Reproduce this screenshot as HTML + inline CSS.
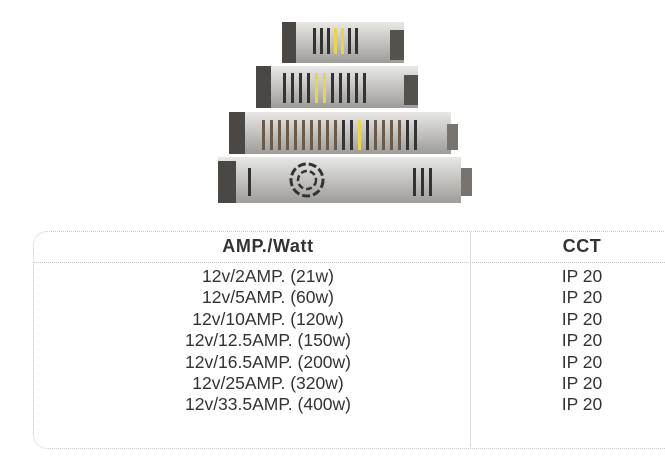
<!DOCTYPE html>
<html><head><style>
body{margin:0;width:665px;height:458px;background:#fff;overflow:hidden;position:relative;font-family:"Liberation Sans",sans-serif;color:#222}
.box{position:absolute;left:33px;top:231px;width:660px;height:216px;border:1px dotted #c8c8c8;border-radius:14px}
.hl{position:absolute;left:33px;top:262px;width:640px;border-top:1px dotted #c8c8c8}
.vl{position:absolute;left:470px;top:232px;height:215px;border-left:1px solid #ddd}
.h{position:absolute;top:236px;font-weight:bold;font-size:18px;letter-spacing:.6px;transform:translateX(-50%);color:#333}
.col{position:absolute;top:266px;font-size:17.5px;line-height:21.4px;text-align:center;transform:translateX(-50%);white-space:nowrap;color:#333}
</style></head><body>
<svg width="665" height="220" style="position:absolute;left:0;top:0">
<defs><linearGradient id="g" x1="0" y1="0" x2="0" y2="1"><stop offset="0" stop-color="#e8e8e6"/><stop offset=".5" stop-color="#c4c2be"/><stop offset="1" stop-color="#9e9c98"/></linearGradient></defs>
<g>
<rect x="282" y="22" width="122" height="41" fill="url(#g)"/><rect x="282" y="22" width="14" height="41" fill="#4a4744"/><rect x="390" y="30" width="14" height="30" fill="#55514c"/>
<g fill="#333"><rect x="313" y="28" width="3" height="26"/><rect x="320" y="28" width="3" height="26"/><rect x="327" y="28" width="3" height="26"/><rect x="334" y="28" width="3" height="26" fill="#e8d450"/><rect x="341" y="28" width="3" height="26" fill="#e8d450"/><rect x="348" y="28" width="3" height="26"/><rect x="355" y="28" width="3" height="26"/></g>
<rect x="256" y="66" width="162" height="42" fill="url(#g)"/><rect x="256" y="66" width="15" height="42" fill="#4a4744"/><rect x="404" y="75" width="14" height="30" fill="#55514c"/>
<g fill="#333"><rect x="283" y="73" width="3" height="30"/><rect x="291" y="73" width="3" height="30"/><rect x="299" y="73" width="3" height="30"/><rect x="307" y="73" width="3" height="30"/><rect x="315" y="73" width="3" height="30" fill="#e8d450"/><rect x="323" y="73" width="3" height="30" fill="#e8d450"/><rect x="331" y="73" width="3" height="30"/><rect x="339" y="73" width="3" height="30"/><rect x="347" y="73" width="3" height="30"/><rect x="355" y="73" width="3" height="30"/><rect x="363" y="73" width="3" height="30"/></g>
<rect x="229" y="112" width="222" height="42" fill="url(#g)"/><rect x="229" y="112" width="16" height="42" fill="#4a4744"/><rect x="447" y="124" width="11" height="26" fill="#77736e"/>
<g fill="#6a5a4a"><rect x="262" y="120" width="3" height="30"/><rect x="270" y="120" width="3" height="30"/><rect x="278" y="120" width="3" height="30"/><rect x="286" y="120" width="3" height="30"/><rect x="294" y="120" width="3" height="30"/><rect x="302" y="120" width="3" height="30"/><rect x="310" y="120" width="3" height="30"/><rect x="318" y="120" width="3" height="30"/><rect x="326" y="120" width="3" height="30"/><rect x="334" y="120" width="3" height="30"/><rect x="342" y="120" width="3" height="30" fill="#333"/><rect x="350" y="120" width="3" height="30" fill="#333"/><rect x="358" y="120" width="3" height="30" fill="#e8d450"/><rect x="366" y="120" width="3" height="30" fill="#333"/><rect x="374" y="120" width="3" height="30"/><rect x="382" y="120" width="3" height="30"/><rect x="390" y="120" width="3" height="30"/><rect x="398" y="120" width="3" height="30"/><rect x="406" y="120" width="3" height="30" fill="#333"/><rect x="414" y="120" width="3" height="30" fill="#333"/></g>
<rect x="218" y="157" width="243" height="46" fill="url(#g)"/><rect x="218" y="161" width="18" height="42" fill="#4a4744"/><rect x="461" y="168" width="11" height="28" fill="#77736e"/>
<g fill="#333"><rect x="248" y="168" width="3" height="28"/><rect x="413" y="168" width="3" height="28"/><rect x="421" y="168" width="3" height="28"/><rect x="429" y="168" width="3" height="28"/></g>
<circle cx="307" cy="180" r="16" fill="none" stroke="#333" stroke-width="3" stroke-dasharray="8 3"/><circle cx="307" cy="180" r="9" fill="none" stroke="#333" stroke-width="2.5" stroke-dasharray="6 3"/>
</g></svg>
<div class="box"></div><div class="hl"></div><div class="vl"></div>
<div class="h" style="left:268px">AMP./Watt</div>
<div class="h" style="left:582px">CCT</div>
<div class="col" style="left:268px">12v/2AMP. (21w)<br>12v/5AMP. (60w)<br>12v/10AMP. (120w)<br>12v/12.5AMP. (150w)<br>12v/16.5AMP. (200w)<br>12v/25AMP. (320w)<br>12v/33.5AMP. (400w)</div>
<div class="col" style="left:582px">IP 20<br>IP 20<br>IP 20<br>IP 20<br>IP 20<br>IP 20<br>IP 20</div>
</body></html>
